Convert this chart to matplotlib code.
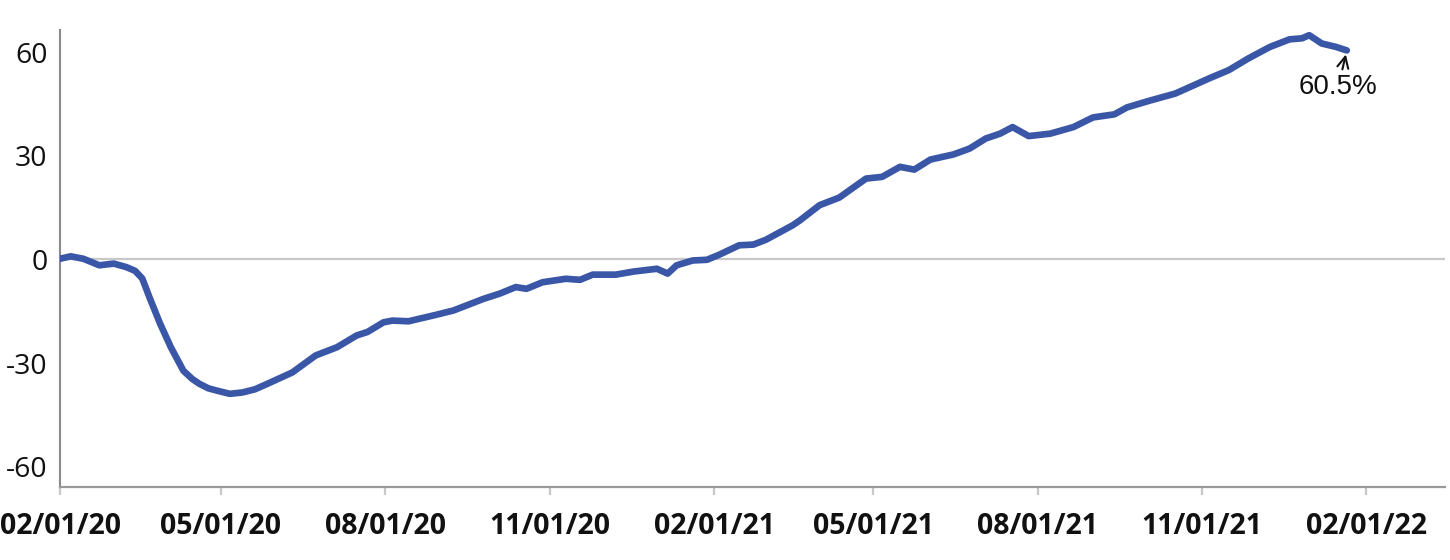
import matplotlib
matplotlib.use("Agg")
import matplotlib.pyplot as plt
import matplotlib.dates as mdates
import pandas as pd

plt.rcParams["axes.unicode_minus"] = False

dates = [
    "2020-02-01", "2020-02-07", "2020-02-14", "2020-02-23", "2020-03-02", "2020-03-09",
    "2020-03-14", "2020-03-18", "2020-03-22", "2020-03-28", "2020-04-03", "2020-04-10",
    "2020-04-15", "2020-04-19", "2020-04-24", "2020-04-29", "2020-05-06", "2020-05-13",
    "2020-05-20", "2020-05-27", "2020-06-10", "2020-06-23",
    "2020-07-05", "2020-07-16", "2020-07-22", "2020-07-31", "2020-08-05", "2020-08-14",
    "2020-08-28", "2020-09-08", "2020-09-25", "2020-10-04", "2020-10-13", "2020-10-19",
    "2020-10-28", "2020-11-10", "2020-11-18", "2020-11-25", "2020-12-08", "2020-12-18",
    "2020-12-31", "2021-01-06", "2021-01-11", "2021-01-20", "2021-01-28", "2021-02-04",
    "2021-02-15", "2021-02-23", "2021-03-02", "2021-03-17", "2021-03-21", "2021-04-01",
    "2021-04-12", "2021-04-27", "2021-05-06", "2021-05-16", "2021-05-24", "2021-06-02",
    "2021-06-15", "2021-06-24", "2021-07-03", "2021-07-11", "2021-07-18", "2021-07-27",
    "2021-08-08", "2021-08-21", "2021-09-01", "2021-09-13", "2021-09-20", "2021-10-03",
    "2021-10-17", "2021-11-05", "2021-11-16", "2021-11-27", "2021-12-09", "2021-12-20",
    "2021-12-27", "2021-12-31", "2022-01-07", "2022-01-15", "2022-01-21",
]
values = [
    0.2, 0.9, 0.2, -1.7, -1.2, -2.2,
    -3.3, -5.5, -10.9, -18.6, -25.4, -32.2,
    -34.6, -36.0, -37.3, -38.0, -38.9, -38.5,
    -37.6, -36.0, -32.7, -27.8,
    -25.4, -22.0, -21.0, -18.2, -17.7, -17.9,
    -16.2, -14.8, -11.4, -9.9, -8.0, -8.5,
    -6.6, -5.6, -5.9, -4.4, -4.4, -3.5,
    -2.7, -4.1, -1.7, -0.3, -0.1, 1.4,
    4.1, 4.3, 5.7, 9.9, 11.3, 15.7,
    17.9, 23.4, 23.9, 26.8, 26.0, 28.9,
    30.4, 32.1, 35.0, 36.4, 38.3, 35.7,
    36.4, 38.3, 41.1, 42.0, 44.0, 46.0,
    48.0, 52.4, 54.8, 58.2, 61.5, 63.7,
    64.0, 64.9, 62.5, 61.5, 60.5,
]
x_ticks = ["2020-02-01", "2020-05-01", "2020-08-01", "2020-11-01", "2021-02-01",
           "2021-05-01", "2021-08-01", "2021-11-01", "2022-02-01"]
y_ticks = [-60, -30, 0, 30, 60]
end_label = "60.5%"

x = pd.to_datetime(dates)

fig = plt.figure(figsize=(14.5, 5.6), dpi=100)
ax = fig.add_axes([0.0414, 0.1295, 0.9552, 0.8169])

ax.axhline(0, color="#c8c8c8", lw=1.6, zorder=1)
ax.plot(x, values, color="#3a56a6", lw=4.8, solid_joinstyle="round",
        solid_capstyle="round", zorder=3)

ax.set_xlim(pd.Timestamp("2020-02-01"), pd.Timestamp("2022-03-17"))
ax.set_ylim(-66, 66.4)

ax.set_xticks(pd.to_datetime(x_ticks))
ax.xaxis.set_major_formatter(mdates.DateFormatter("%m/%d/%y"))
ax.set_yticks(y_ticks)

for s in ["top", "right"]:
    ax.spines[s].set_visible(False)
ax.spines["left"].set_color("#8a8a8a")
ax.spines["left"].set_linewidth(1.5)
ax.spines["bottom"].set_color("#9a9a9a")
ax.spines["bottom"].set_linewidth(1.6)

ax.tick_params(axis="x", length=6, width=1.6, color="#c8c8c8", pad=12)
ax.tick_params(axis="y", length=0, pad=9)
for lbl in ax.get_xticklabels():
    lbl.set_fontfamily("Open Sans")
    lbl.set_fontweight("bold")
    lbl.set_fontsize(20.5)
    lbl.set_color("#111111")
for lbl in ax.get_yticklabels():
    lbl.set_fontfamily("Open Sans")
    lbl.set_fontsize(20.5)
    lbl.set_color("#111111")

ax.annotate(end_label, xy=(x[-1], values[-1]), xytext=(-6, -26),
            textcoords="offset points", ha="center", va="center",
            fontsize=20, family="Liberation Sans", color="#111111",
            arrowprops=dict(arrowstyle="->", color="#111111", lw=1.5,
                            shrinkA=1, shrinkB=3))

fig.savefig("out.png", dpi=100)
